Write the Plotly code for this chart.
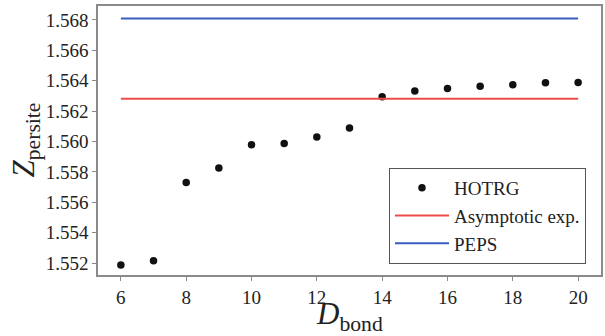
import plotly.graph_objects as go

d_bond = [6, 7, 8, 9, 10, 11, 12, 13, 14, 15, 16, 17, 18, 19, 20]
z_hotrg = [1.55187, 1.55215, 1.5573, 1.55826, 1.55978, 1.55986, 1.56029, 1.56088,
           1.56295, 1.56333, 1.56349, 1.56364, 1.56374, 1.56387, 1.56389]
z_asymptotic = 1.56281
z_peps = 1.56810
x_ticks = [6, 8, 10, 12, 14, 16, 18, 20]
y_ticks = [1.552, 1.554, 1.556, 1.558, 1.560, 1.562, 1.564, 1.566, 1.568]

FONT = "Liberation Serif"
FRAME = "#8a8a8a"
TXT = "#222222"

fig = go.Figure()
fig.add_trace(go.Scatter(
    x=d_bond, y=z_hotrg, mode="markers", name="HOTRG",
    marker=dict(color="#111111", size=7.5),
))
fig.add_trace(go.Scatter(
    x=[d_bond[0], d_bond[-1]], y=[z_asymptotic, z_asymptotic], mode="lines",
    name="Asymptotic exp.", line=dict(color="#ee4b4b", width=2),
))
fig.add_trace(go.Scatter(
    x=[d_bond[0], d_bond[-1]], y=[z_peps, z_peps], mode="lines",
    name="PEPS", line=dict(color="#3a5cc0", width=2),
))

fig.update_layout(
    width=605, height=336,
    margin=dict(l=98, r=4, t=6, b=61),
    paper_bgcolor="white", plot_bgcolor="white",
    font=dict(family=FONT, size=19, color=TXT),
    showlegend=True,
    legend=dict(
        x=0.5785, y=0.041, xanchor="left", yanchor="bottom",
        bordercolor="#555555", borderwidth=1, bgcolor="white",
        font=dict(family=FONT, size=19, color=TXT),
        itemwidth=54,
    ),
    xaxis=dict(
        range=[5.3, 20.7], tickvals=x_ticks, ticktext=[str(v) for v in x_ticks],
        showgrid=False, zeroline=False, showline=True, mirror=True,
        linecolor=FRAME, linewidth=1.5, ticks="outside", ticklen=4,
        tickcolor=FRAME, tickwidth=1, automargin=False,
        tickfont=dict(family=FONT, size=19, color=TXT),
    ),
    yaxis=dict(
        range=[1.55121, 1.56892], tickvals=y_ticks,
        ticktext=[f"{v:.3f}" for v in y_ticks],
        showgrid=False, zeroline=False, showline=True, mirror=True,
        linecolor=FRAME, linewidth=1.5, ticks="outside", ticklen=4,
        tickcolor=FRAME, tickwidth=1, automargin=False,
        tickfont=dict(family=FONT, size=19, color=TXT),
    ),
    annotations=[
        dict(text="<i>D</i><sub>bond</sub>", xref="paper", yref="paper",
             x=0.5, y=-0.07, xanchor="center", yanchor="top", showarrow=False,
             font=dict(family=FONT, size=31, color=TXT)),
        dict(text="<i>Z</i><sub>persite</sub>", xref="paper", yref="paper",
             x=-0.145, y=0.5, xanchor="center", yanchor="middle", showarrow=False,
             textangle=-90, font=dict(family=FONT, size=31, color=TXT)),
    ],
)

fig.write_html("out.html", config={"displayModeBar": False},
               post_script="document.body.style.margin='0';")
